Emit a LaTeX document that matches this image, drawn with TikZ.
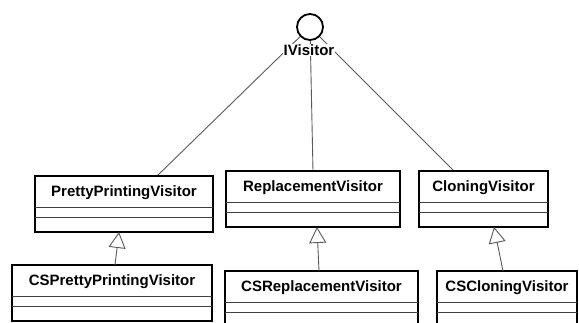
\documentclass[tikz,border=0pt]{standalone}
\usepackage{fontspec}
\setmainfont{Liberation Sans}
\usetikzlibrary{arrows.meta,calc}

% A UML class box: name, x, y (top left), width, height, title
\newcommand\umlclass[6]{%
  \node[classbox, minimum width=#4pt, minimum height=#5pt] (#1) at (#2,#3) {};
  \node[classname] (#1-title) at ($(#1.north)+(0,17)$) {#6};
  \draw[compartment] ($(#1.north west)+(0,32)$) -- ($(#1.north east)+(0,32)$);
  \draw[compartment] ($(#1.north west)+(0,42)$) -- ($(#1.north east)+(0,42)$);
}

\begin{document}
\begin{tikzpicture}[x=1pt,y=-1pt,
  classbox/.style={draw=black, line width=1.8pt, fill=white, anchor=north west,
                   inner sep=0pt, outer sep=0pt},
  classname/.style={font=\fontsize{15}{18}\bfseries\selectfont, inner sep=0pt},
  compartment/.style={draw=black!75, line width=1pt},
  link/.style={draw=black!65, line width=0.9pt},
  inherit/.style={link, -{Triangle[open, length=16pt, width=17pt, fill=white]}}]
\useasboundingbox (0,0) rectangle (579,323);
\clip (0,0) rectangle (579,323);

% interface lollipop
\node[circle, draw=black, line width=1.8pt, minimum size=26pt, inner sep=0pt] (iv) at (310,27) {};

% realization links from the interface
\coordinate (ppv-in) at (157,176);
\coordinate (rv-in)  at (313,171);
\coordinate (cv-in)  at (455,172);
\draw[link] (iv) -- (ppv-in);
\draw[link] (iv) -- (rv-in);
\draw[link] (iv) -- (cv-in);

\node[classname, fill=white, inner sep=0.5pt] (ivlabel) at (309,50) {IVisitor};

% classes
\umlclass{ppv}{35}{176}{178}{56}{PrettyPrintingVisitor}
\umlclass{rv}{226}{171}{174}{56}{ReplacementVisitor}
\umlclass{cv}{419}{171}{129}{56}{CloningVisitor}
\umlclass{csppv}{12}{265}{200}{56}{CSPrettyPrintingVisitor}
\umlclass{csrv}{225}{271}{193}{62}{CSReplacementVisitor}
\umlclass{cscv}{437}{271}{140}{62}{CSCloningVisitor}

% generalizations
\coordinate (csppv-up) at (115,265);
\coordinate (ppv-down) at (119,232);
\coordinate (csrv-up)  at (319,271);
\coordinate (rv-down)  at (317,227);
\coordinate (cscv-up)  at (503,271);
\coordinate (cv-down)  at (494,227);
\draw[inherit] (csppv-up) -- (ppv-down);
\draw[inherit] (csrv-up) -- (rv-down);
\draw[inherit] (cscv-up) -- (cv-down);
\end{tikzpicture}
\end{document}
